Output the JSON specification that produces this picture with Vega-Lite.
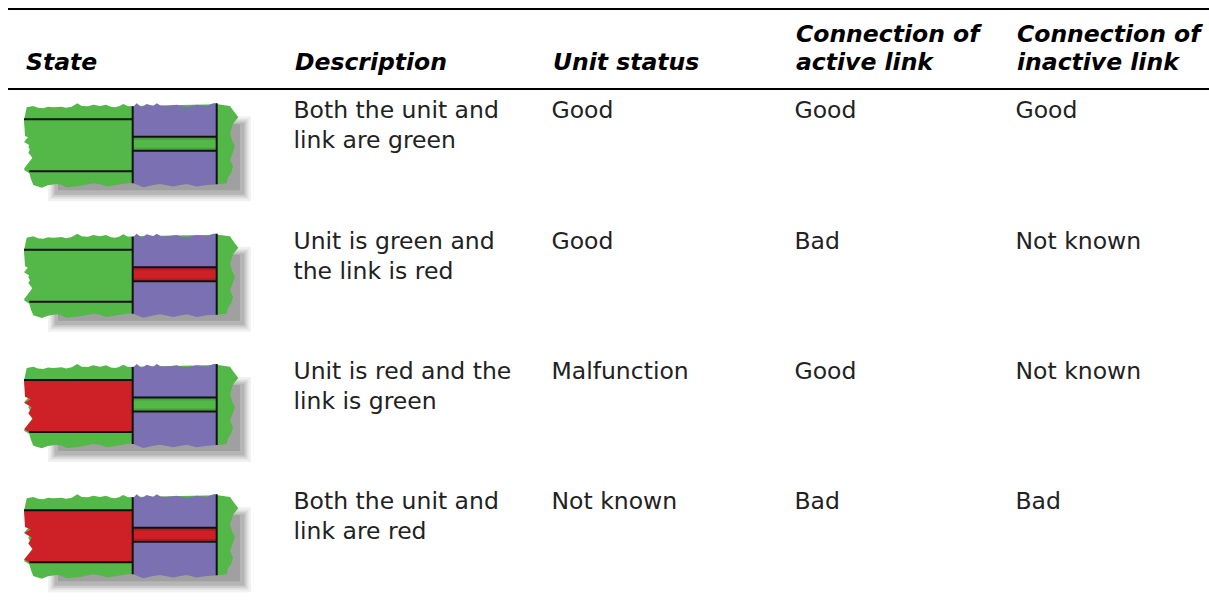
{
"$schema":"https://vega.github.io/schema/vega-lite/v6.json",
"width":1201,"height":603,
"autosize":{"type":"none"},
"padding":{"left":8,"top":0,"right":0,"bottom":0},
"background":"#ffffff",
"config":{"view":{"stroke":null}},
"datasets":{
"rules":[{"rule":"top"},{"rule":"header"}],
"icons":[{"row":1,"col":0,"unit":"green","link":"green"},{"row":2,"col":0,"unit":"green","link":"red"},{"row":3,"col":0,"unit":"red","link":"green"},{"row":4,"col":0,"unit":"red","link":"red"}],
"header":[{"row":0,"col":0,"text":"State"},{"row":0,"col":1,"text":"Description"},{"row":0,"col":2,"text":"Unit status"},{"row":-1,"col":3,"text":"Connection of"},{"row":0,"col":3,"text":"active link"},{"row":-1,"col":4,"text":"Connection of"},{"row":0,"col":4,"text":"inactive link"}],
"body":[
{"row":1,"col":1,"text":"Both the unit and\nlink are green"},{"row":1,"col":2,"text":"Good"},{"row":1,"col":3,"text":"Good"},{"row":1,"col":4,"text":"Good"},
{"row":2,"col":1,"text":"Unit is green and\nthe link is red"},{"row":2,"col":2,"text":"Good"},{"row":2,"col":3,"text":"Bad"},{"row":2,"col":4,"text":"Not known"},
{"row":3,"col":1,"text":"Unit is red and the\nlink is green"},{"row":3,"col":2,"text":"Malfunction"},{"row":3,"col":3,"text":"Good"},{"row":3,"col":4,"text":"Not known"},
{"row":4,"col":1,"text":"Both the unit and\nlink are red"},{"row":4,"col":2,"text":"Not known"},{"row":4,"col":3,"text":"Bad"},{"row":4,"col":4,"text":"Bad"}
]},
"resolve":{"scale":{"y":"independent"}},
"layer":[
{"data":{"name":"rules"},
 "mark":{"type":"rule","stroke":"#000000","strokeWidth":2},
 "encoding":{"y":{"field":"rule","type":"nominal","axis":null,"sort":null,"scale":{"type":"point","domain":["top","header"],"range":[9,89],"padding":0}}}},
{"encoding":{
  "x":{"field":"col","type":"quantitative","axis":null,"scale":{"domain":[0,1,2,3,4],"range":[16,285,543,786,1007],"nice":false,"zero":false}},
  "y":{"field":"row","type":"quantitative","axis":null,"scale":{"domain":[-1,0,1,4],"range":[42,70,103.3,494.3],"nice":false,"zero":false}}},
 "layer":[
 {"data":{"name":"header"},"mark":{"type":"text","align":"left","baseline":"alphabetic","font":"DejaVu Sans","fontStyle":"italic","fontWeight":"bold","fontSize":23.5,"fill":"#000000","dx":2},"encoding":{"text":{"field":"text"}}},
 {"data":{"name":"body"},"mark":{"type":"text","align":"left","baseline":"alphabetic","lineBreak":"\n","lineHeight":30,"font":"DejaVu Sans","fontSize":23.5,"fill":"#222222","dx":0.5,"dy":15},"encoding":{"text":{"field":"text"}}},
 {"data":{"name":"icons"},
  "layer":[
  {"mark":{"type":"point","size":4,"filled":true,"opacity":0.06,"fill":"#222222","stroke":"#222222","strokeWidth":16,"shape":"M32 21 L219 21 L219 90 L32 90 Z"}},
  {"mark":{"type":"point","size":4,"filled":true,"opacity":0.08,"fill":"#222222","stroke":"#222222","strokeWidth":11,"shape":"M32 21 L219 21 L219 90 L32 90 Z"}},
  {"mark":{"type":"point","size":4,"filled":true,"opacity":0.1,"fill":"#222222","stroke":"#222222","strokeWidth":7,"shape":"M32 21 L219 21 L219 90 L32 90 Z"}},
  {"mark":{"type":"point","size":4,"filled":true,"opacity":0.12,"fill":"#222222","stroke":"#222222","strokeWidth":3,"shape":"M32 21 L219 21 L219 90 L32 90 Z"}},
  {"mark":{"type":"point","size":4,"filled":true,"opacity":0.14,"fill":"#222222","shape":"M34 21 L216 21 L216 87 L34 87 Z"}},
  {"mark":{"type":"point","size":4,"filled":true,"opacity":1,"fill":"#53b848","shape":"M2.7 4 L9.3 2.7 L14 4.5 L19.3 5 L24 3.5 L29.3 4 L37.7 3.4 L42 4.5 L47.7 3.4 L53.3 0 L57.7 2.7 L64 3 L69.3 1.4 L76 2.7 L82 1.4 L87 3.5 L91 4 L95 3 L99.3 0.7 L104 3 L108.7 2.7 L193.7 1 L206 2.7 L209 7 L214.3 14 L209.3 20 L206 30 L208 37 L211 43 L206 56.7 L209 63 L207 70 L204 74 L202.7 80 L193.7 81 L108.7 79.4 L100 80.5 L92.7 81.7 L82.7 83.3 L76 81 L69.3 80 L62 81.5 L56 82.7 L42.7 84 L37 81.5 L32.7 80.7 L24 82 L17.7 84.4 L9.3 81.7 L7 76 L5.3 70 L0 66.7 L4.3 60 L9.3 53.4 L4.3 43.4 L7.7 36.7 L0 38.4 L6 31.7 L1 23.4 L0 16.7 Z"}},
  {"mark":{"type":"point","size":4,"filled":true,"opacity":1,"fill":"#7b70b2","shape":"M109.3 3.4 L112.7 0 L117.7 4 L122.7 0.7 L129.3 2.7 L132.7 0 L137 2.5 L142.7 2.7 L152.7 1.4 L158 3 L164.3 3.4 L172.7 1.4 L182.7 2.7 L189.3 0 L192.7 0 L192.7 81 L182.7 81.7 L172.7 83.3 L162.7 80.7 L155 82 L149.3 83.3 L136 80.7 L128 82 L119.3 84 L109.3 80 Z"}},
  {"mark":{"type":"point","size":4,"filled":true,"opacity":1,"shape":"M0 16 L108.7 16 L108.7 68 L5.3 68 L0 65.3 L8.7 55 L4.3 49.3 L7.7 43.3 L0 38.7 L6.7 35.3 L1 32.7 Z"},
   "encoding":{"color":{"field":"unit","type":"nominal","legend":null,"scale":{"domain":["green","red"],"range":["#53b848","#ce2127"]}}}},
  {"mark":{"type":"point","size":4,"filled":true,"opacity":1,"shape":"M109 33.5 L192.7 33.5 L192.7 47.5 L109 47.5 Z"},
   "encoding":{"color":{"field":"link","type":"nominal","legend":null,"scale":{"domain":["green","red"],"range":["#53b848","#ce2127"]}}}},
  {"mark":{"type":"point","size":4,"filled":false,"opacity":0.13,"stroke":"#000000","strokeWidth":2,"shape":"M109 45.5 L192.7 45.5 M109 35.5 L192.7 35.5"}},
  {"mark":{"type":"point","size":4,"filled":false,"opacity":1,"stroke":"#111111","strokeWidth":2,"shape":"M0 16 L108.7 16 M5.3 68 L108.7 68 M108.7 3 L108.7 80 M109 33.5 L192.7 33.5 M109 47.5 L192.7 47.5 M192.7 0 L192.7 81"}}
  ]}
 ]}
]}
